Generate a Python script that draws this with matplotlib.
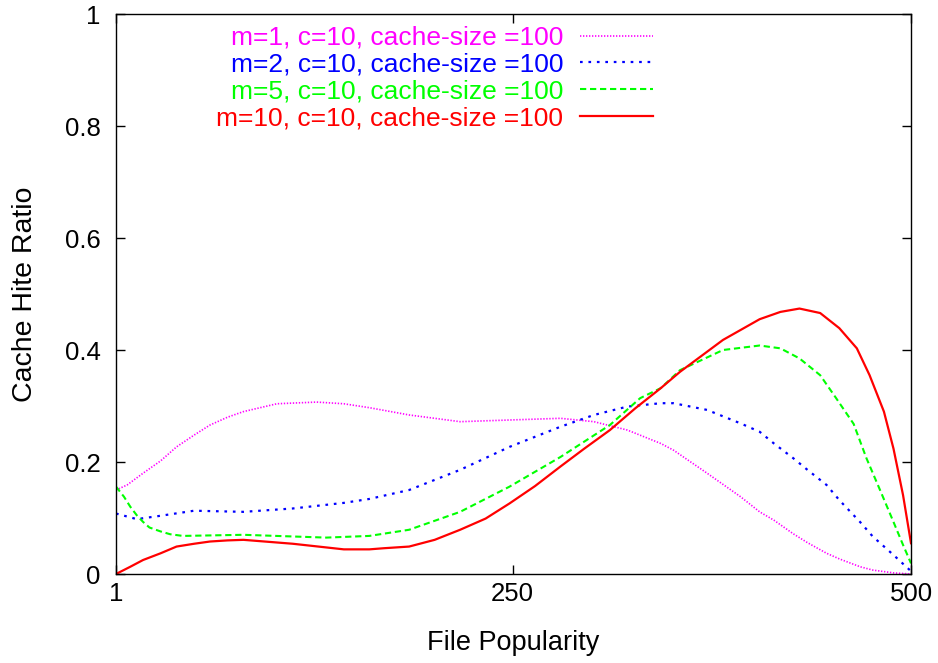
import matplotlib
matplotlib.use("Agg")
import matplotlib.pyplot as plt

plt.rcParams['font.family'] = ['Liberation Sans', 'DejaVu Sans']

# m=1 (magenta)
x_m1 = [1, 8, 18, 29, 39, 50, 60, 71, 81, 102, 127, 144, 160, 185, 217, 248, 280, 301, 322, 343, 351, 372, 393, 405, 414, 426, 435, 447, 455, 468, 476, 489, 500]
y_m1 = [0.150, 0.159, 0.180, 0.202, 0.227, 0.248, 0.266, 0.280, 0.290, 0.304, 0.307, 0.304, 0.297, 0.284, 0.272, 0.275, 0.278, 0.272, 0.257, 0.233, 0.221, 0.180, 0.138, 0.111, 0.096, 0.072, 0.056, 0.037, 0.027, 0.013, 0.007, 0.002, 0.0]

# m=2 (blue)
x_m2 = [1, 14, 29, 50, 81, 112, 144, 160, 185, 217, 248, 280, 301, 322, 343, 351, 372, 393, 405, 414, 426, 435, 447, 455, 468, 476, 489, 500]
y_m2 = [0.108, 0.098, 0.104, 0.113, 0.111, 0.117, 0.127, 0.134, 0.150, 0.186, 0.227, 0.263, 0.284, 0.299, 0.305, 0.305, 0.293, 0.269, 0.254, 0.233, 0.207, 0.186, 0.159, 0.132, 0.093, 0.067, 0.034, 0.005]

# m=5 (green)
x_m5 = [1, 6, 10, 14, 18, 22, 29, 35, 43, 81, 112, 133, 160, 185, 217, 248, 280, 311, 330, 343, 355, 382, 405, 418, 430, 443, 453, 464, 472, 481, 489, 495, 500]
y_m5 = [0.156, 0.138, 0.120, 0.105, 0.093, 0.083, 0.076, 0.071, 0.068, 0.070, 0.067, 0.065, 0.068, 0.079, 0.111, 0.156, 0.209, 0.266, 0.314, 0.332, 0.364, 0.400, 0.408, 0.403, 0.385, 0.355, 0.314, 0.268, 0.207, 0.147, 0.093, 0.052, 0.019]

# m=10 (red)
x_m10 = [1, 10, 18, 29, 39, 50, 60, 71, 81, 112, 144, 160, 169, 185, 201, 217, 233, 248, 264, 280, 295, 311, 327, 343, 355, 382, 405, 418, 430, 443, 455, 466, 474, 483, 489, 495, 500]
y_m10 = [0.0, 0.013, 0.025, 0.037, 0.049, 0.054, 0.058, 0.060, 0.061, 0.054, 0.044, 0.044, 0.046, 0.049, 0.061, 0.079, 0.099, 0.126, 0.157, 0.192, 0.224, 0.257, 0.296, 0.332, 0.361, 0.418, 0.455, 0.468, 0.474, 0.466, 0.439, 0.403, 0.355, 0.290, 0.224, 0.141, 0.055]

labels = ["m=1, c=10, cache-size =100", "m=2, c=10, cache-size =100",
          "m=5, c=10, cache-size =100", "m=10, c=10, cache-size =100"]
colors = ["#ff00ff", "#0000ff", "#00ff00", "#ff0000"]

x_ticks = [1, 250, 500]
y_ticks = [0, 0.2, 0.4, 0.6, 0.8, 1.0]
y_tick_labels = ["0", "0.2", "0.4", "0.6", "0.8", "1"]

W, H = 938, 663
L, R, B, T = 116, 911, 574, 14
fig = plt.figure(figsize=(W / 100, H / 100), dpi=100)
ax = fig.add_axes([L / W, (H - B) / H, (R - L) / W, (B - T) / H])

def fx(px):
    return (px - L) / (R - L)

def fy(py):
    return (B - py) / (B - T)

styles = [(0, (0.8, 1.0)), (0, (1.2, 2.6)), (0, (3.0, 1.8)), '-']
lws = [1.2, 1.6, 1.5, 1.6]
series = [(x_m1, y_m1), (x_m2, y_m2), (x_m5, y_m5), (x_m10, y_m10)]
for (xs, ys), c, ls, lw in zip(series, colors, styles, lws):
    ax.plot(xs, ys, color=c, linestyle=ls, linewidth=lw, solid_joinstyle='round')

ax.set_xlim(1, 500)
ax.set_ylim(0, 1)
ax.set_xticks(x_ticks)
ax.set_xticklabels([str(t) for t in x_ticks])
ax.set_yticks(y_ticks)
ax.set_yticklabels(y_tick_labels)
ax.tick_params(direction='in', length=6.5, width=1, labelsize=18.5,
               top=True, right=True)
ax.tick_params(axis='x', pad=6)
ax.tick_params(axis='y', pad=11)
for s in ax.spines.values():
    s.set_linewidth(1.0)

ax.set_xlabel("File Popularity", fontsize=19.5, va='baseline')
ax.xaxis.set_label_coords(0.5, fy(650))
ax.set_ylabel("Cache Hite Ratio", fontsize=20.5, va='baseline')
ax.yaxis.set_label_coords(fx(32.5), 0.5)

# key (gnuplot style: right-aligned text, sample to the right)
for i, (lab, c, ls, lw) in enumerate(zip(labels, colors, styles, lws)):
    base = 45 + 26.7 * i
    ax.text(fx(563), fy(base), lab, color=c, fontsize=19, ha='right',
            va='baseline', transform=ax.transAxes)
    ax.plot([fx(580), fx(653)], [fy(base - 9.5)] * 2, color=c, linestyle=ls,
            linewidth=lw, transform=ax.transAxes, clip_on=False)

fig.savefig("out.png", dpi=100)
